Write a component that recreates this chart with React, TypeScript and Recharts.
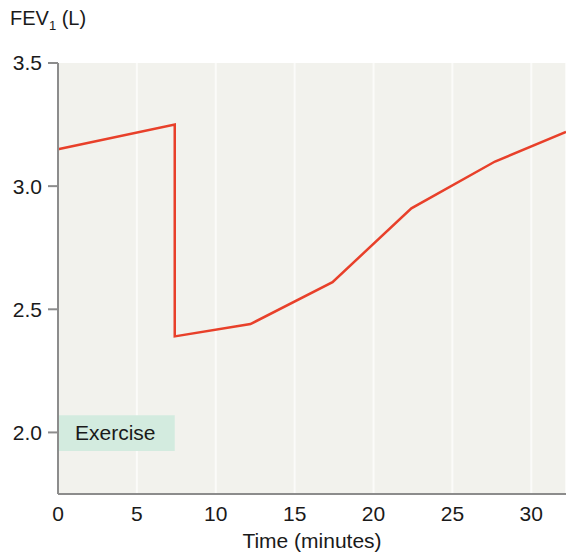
import { CartesianGrid, Line, LineChart, ReferenceArea, XAxis, YAxis } from "recharts";

// FEV1 after exercise
const minutes = [0, 7.4, 7.4, 12.2, 17.4, 22.4, 27.7, 32.2];
const fev1 = [3.15, 3.25, 2.39, 2.44, 2.61, 2.91, 3.1, 3.22];
const xTicks = [0, 5, 10, 15, 20, 25, 30];
const yTicks = [2.0, 2.5, 3.0, 3.5];
const exerciseLabel = "Exercise";
const exerciseSpan = [0, 7.4];

const data = minutes.map((t, i) => ({ t, fev: fev1[i] }));

const font = "'Liberation Sans', Arial, Helvetica, sans-serif";
const axisColor = "#8c8c8c";
const textColor = "#1a1a1a";
const fontSize = 21;

export default function App() {
  return (
    <div style={{ position: "relative", width: 566, height: 552, fontFamily: font }}>
      <style>{"body{margin:0}"}</style>
      <div style={{ position: "absolute", left: 10, top: 7, fontSize: 20, color: textColor }}>
        FEV<sub style={{ fontSize: 13 }}>1</sub> (L)
      </div>
      <LineChart width={566} height={552} data={data} margin={{ top: 63, right: 0, bottom: 0, left: 0 }}>
        <CartesianGrid horizontal={false} stroke="#fbfbf9" strokeWidth={2} fill="#f2f2ed" />
        <ReferenceArea
          x1={exerciseSpan[0]}
          x2={exerciseSpan[1]}
          y1={1.925}
          y2={2.07}
          fill="#d3ebdf"
          fillOpacity={1}
          stroke="none"
          label={{ value: exerciseLabel, position: "insideLeft", offset: 17, fill: textColor, fontSize, fontFamily: font }}
        />
        <XAxis
          dataKey="t"
          type="number"
          domain={[0, 32.2]}
          ticks={xTicks}
          tickLine={false}
          tickSize={0}
          tickMargin={12}
          height={58}
          stroke={axisColor}
          strokeWidth={2}
          tick={{ fill: textColor, fontSize, fontFamily: font }}
          label={{ value: "Time (minutes)", position: "insideBottom", offset: 4, fill: textColor, fontSize, fontFamily: font }}
        />
        <YAxis
          type="number"
          domain={[1.75, 3.5]}
          ticks={yTicks}
          width={58}
          tickSize={10}
          tickMargin={6}
          stroke={axisColor}
          strokeWidth={2}
          tickFormatter={(v: number) => v.toFixed(1)}
          tick={{ fill: textColor, fontSize, fontFamily: font }}
        />
        <Line
          dataKey="fev"
          stroke="#e8402a"
          strokeWidth={2.5}
          dot={false}
          isAnimationActive={false}
          strokeLinejoin="miter"
        />
      </LineChart>
    </div>
  );
}
